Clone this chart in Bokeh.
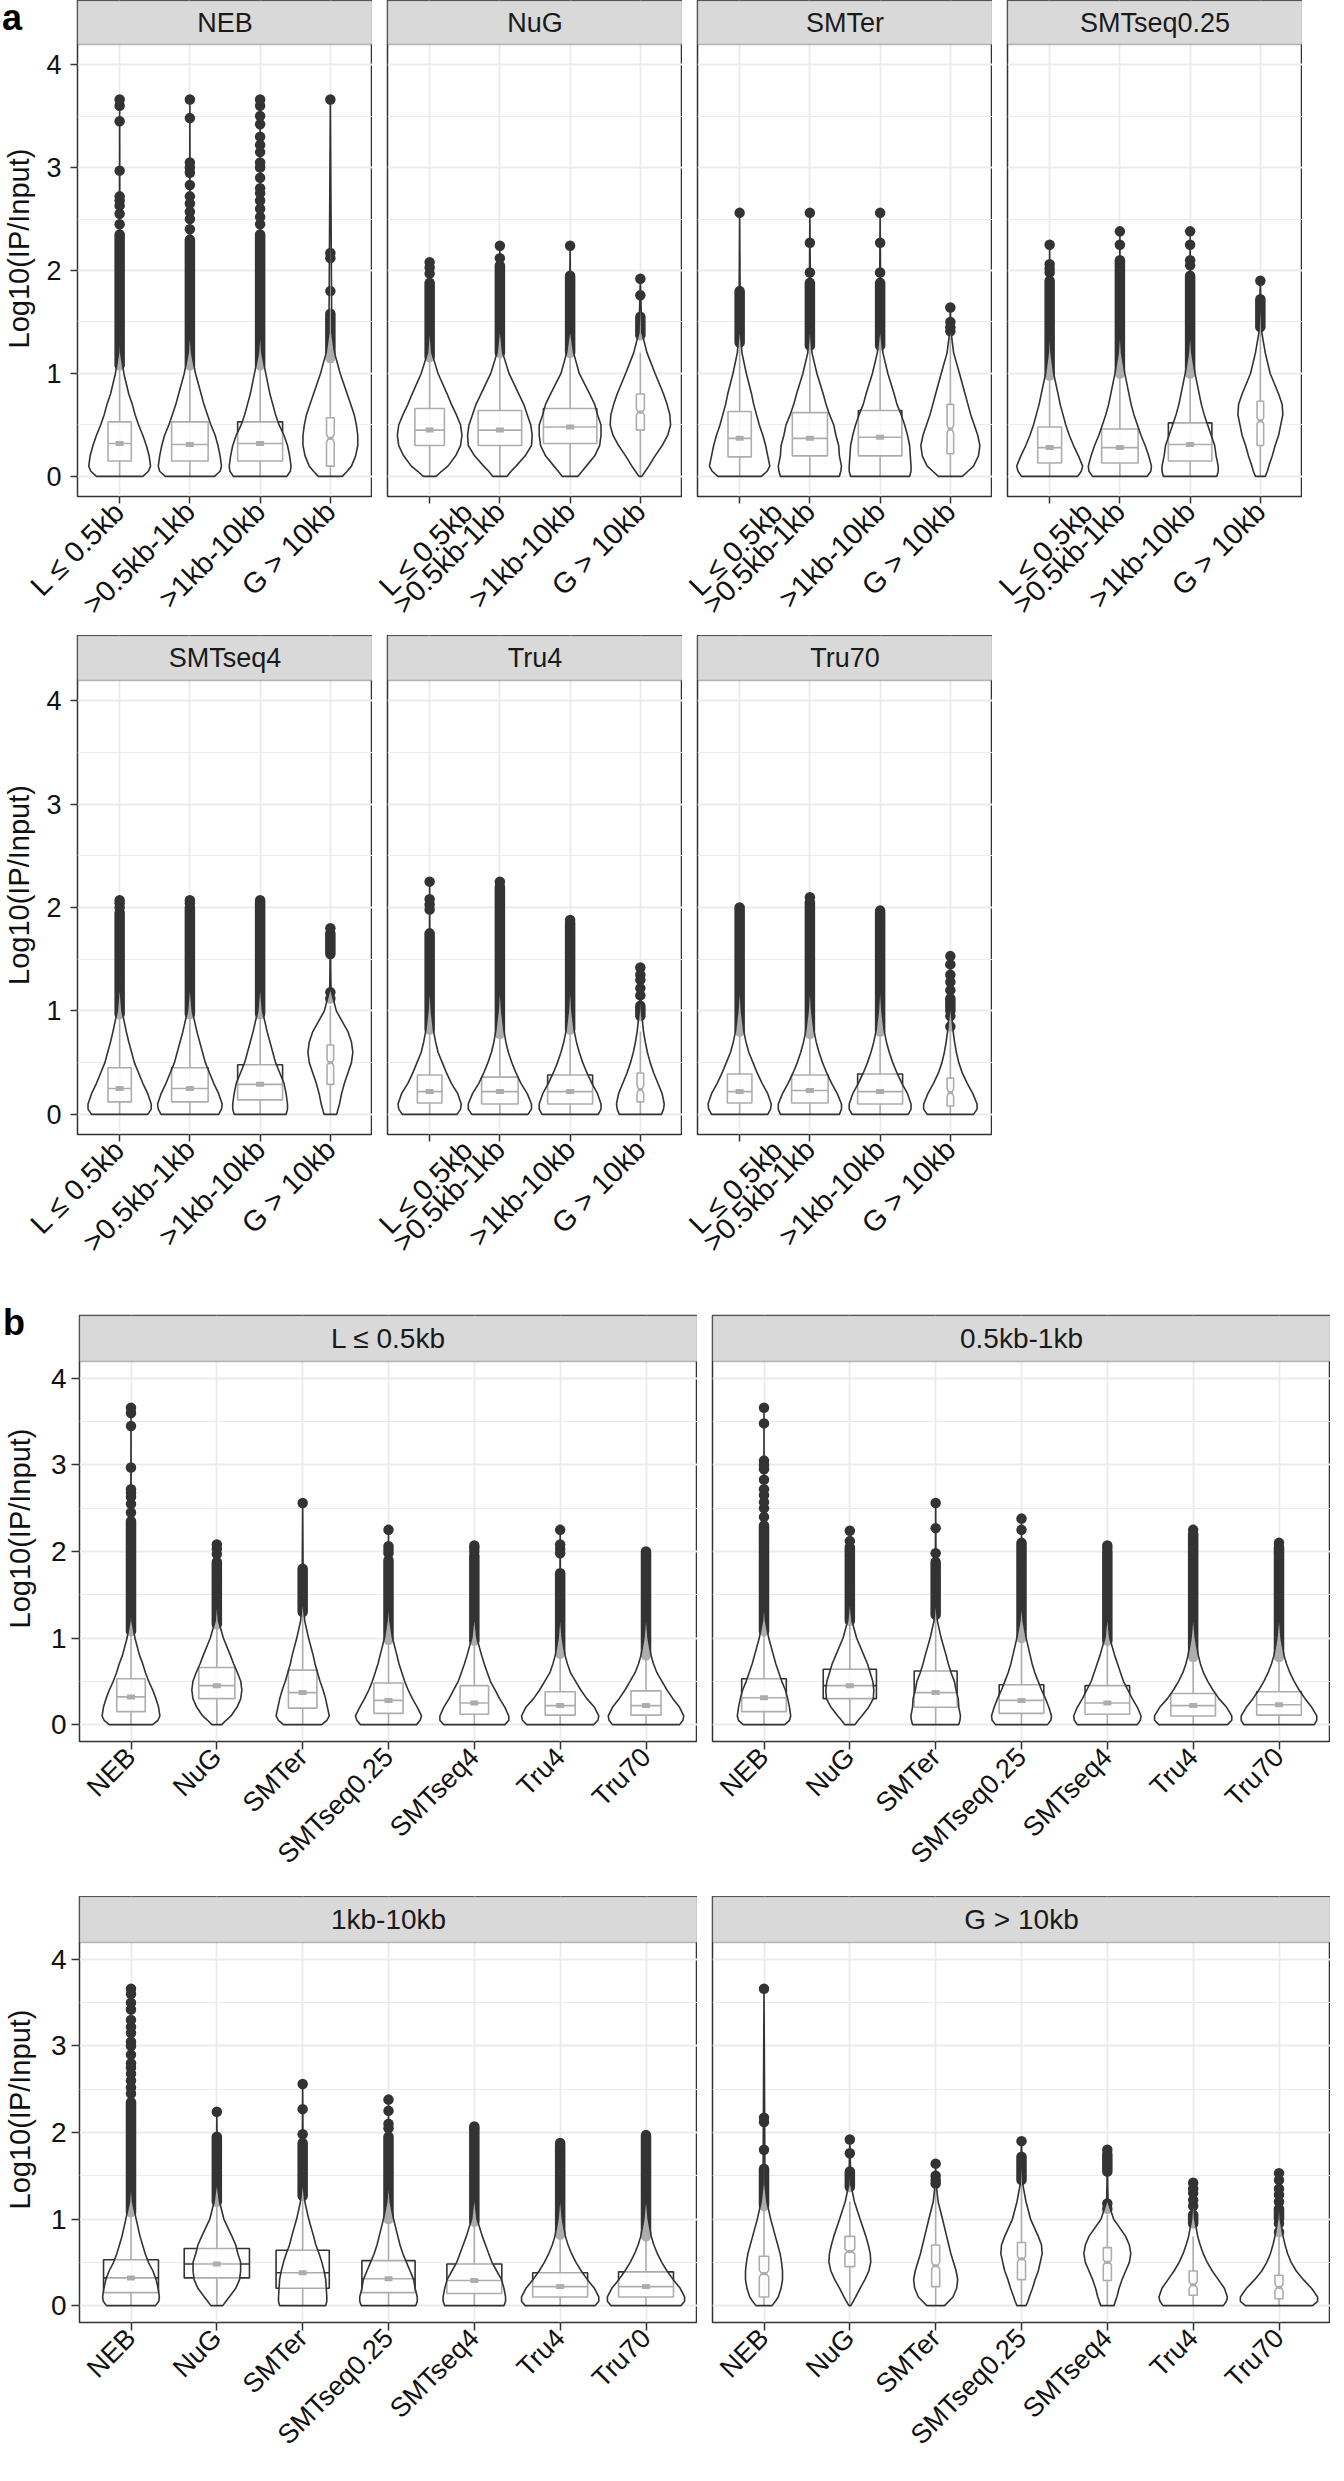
import math
from bokeh.plotting import figure
from bokeh.layouts import row, column
from bokeh.models import FixedTicker, BoxAnnotation, Label, ColumnDataSource, Range1d, Div
from bokeh.embed import file_html
from bokeh.resources import INLINE

# ---------------- data ----------------
LIBS = ["NEB", "NuG", "SMTer", "SMTseq0.25", "SMTseq4", "Tru4", "Tru70"]
SIZES_A = ["L \u2264 0.5kb", ">0.5kb-1kb", ">1kb-10kb", "G > 10kb"]
SIZES_B = ["L \u2264 0.5kb", "0.5kb-1kb", "1kb-10kb", "G > 10kb"]
Y_TICKS = [0, 1, 2, 3, 4]
Y_TITLE = "Log10(IP/Input)"
TAGS = ["a", "b"]

# violin half-widths (x units of panel a) at these y levels
VIOLIN_Y = [0, 0.05, 0.1, 0.2, 0.3, 0.4, 0.5, 0.6, 0.7, 0.8, 1.0, 1.2, 1.4]
VIOLIN_W = {
    "NEB": [[0.33, 0.41, 0.44, 0.42, 0.38, 0.33, 0.27, 0.22, 0.18, 0.13, 0.06, 0.015, 0.005],
            [0.35, 0.43, 0.45, 0.43, 0.40, 0.36, 0.30, 0.25, 0.20, 0.16, 0.08, 0.024, 0.005],
            [0.38, 0.43, 0.44, 0.42, 0.39, 0.34, 0.27, 0.22, 0.18, 0.14, 0.08, 0.024, 0.005],
            [0.17, 0.24, 0.30, 0.36, 0.39, 0.39, 0.37, 0.34, 0.29, 0.24, 0.14, 0.06, 0.02]],
    "NuG": [[0.09, 0.17, 0.26, 0.37, 0.44, 0.46, 0.44, 0.38, 0.31, 0.25, 0.12, 0.03, 0.008],
            [0.10, 0.16, 0.23, 0.36, 0.45, 0.46, 0.44, 0.39, 0.34, 0.27, 0.13, 0.04, 0.01],
            [0.11, 0.17, 0.23, 0.35, 0.42, 0.44, 0.44, 0.39, 0.35, 0.28, 0.13, 0.05, 0.01],
            [0.02, 0.07, 0.12, 0.21, 0.31, 0.39, 0.43, 0.42, 0.38, 0.33, 0.21, 0.095, 0.02]],
    "SMTer": [[0.31, 0.39, 0.43, 0.40, 0.37, 0.33, 0.28, 0.24, 0.20, 0.17, 0.095, 0.033, 0.01],
              [0.42, 0.44, 0.45, 0.42, 0.41, 0.37, 0.34, 0.28, 0.23, 0.19, 0.10, 0.03, 0.01],
              [0.42, 0.44, 0.44, 0.43, 0.42, 0.39, 0.35, 0.30, 0.24, 0.20, 0.11, 0.04, 0.01],
              [0.17, 0.25, 0.33, 0.40, 0.42, 0.39, 0.34, 0.29, 0.25, 0.21, 0.13, 0.047, 0.01]],
    "SMTseq0.25": [[0.40, 0.45, 0.47, 0.41, 0.34, 0.28, 0.23, 0.19, 0.15, 0.12, 0.057, 0.02, 0.005],
                   [0.39, 0.44, 0.45, 0.41, 0.36, 0.30, 0.25, 0.20, 0.16, 0.13, 0.07, 0.024, 0.005],
                   [0.38, 0.40, 0.40, 0.37, 0.35, 0.30, 0.25, 0.20, 0.16, 0.13, 0.07, 0.024, 0.005],
                   [0.07, 0.10, 0.12, 0.17, 0.21, 0.26, 0.29, 0.32, 0.31, 0.26, 0.14, 0.07, 0.02]],
    "SMTseq4": [[0.40, 0.45, 0.45, 0.40, 0.33, 0.27, 0.21, 0.17, 0.13, 0.095, 0.033, 0.01, 0.005],
                [0.41, 0.45, 0.46, 0.41, 0.34, 0.28, 0.22, 0.18, 0.14, 0.10, 0.033, 0.01, 0.005],
                [0.37, 0.39, 0.39, 0.37, 0.34, 0.28, 0.22, 0.18, 0.14, 0.10, 0.033, 0.01, 0.005],
                [0.09, 0.11, 0.13, 0.16, 0.20, 0.25, 0.30, 0.32, 0.30, 0.25, 0.085, 0.01, 0.005]],
    "Tru4": [[0.39, 0.44, 0.45, 0.40, 0.31, 0.24, 0.18, 0.12, 0.085, 0.057, 0.024, 0.008, 0.004],
             [0.40, 0.45, 0.45, 0.39, 0.30, 0.23, 0.17, 0.12, 0.085, 0.06, 0.025, 0.008, 0.004],
             [0.40, 0.44, 0.44, 0.39, 0.31, 0.24, 0.18, 0.13, 0.09, 0.06, 0.025, 0.008, 0.004],
             [0.30, 0.33, 0.34, 0.31, 0.25, 0.19, 0.14, 0.10, 0.07, 0.045, 0.015, 0.005, 0.003]],
    "Tru70": [[0.40, 0.44, 0.45, 0.40, 0.32, 0.25, 0.19, 0.13, 0.09, 0.06, 0.025, 0.008, 0.004],
              [0.42, 0.45, 0.45, 0.39, 0.31, 0.24, 0.18, 0.13, 0.09, 0.06, 0.025, 0.008, 0.004],
              [0.40, 0.44, 0.44, 0.39, 0.31, 0.24, 0.18, 0.13, 0.09, 0.06, 0.025, 0.008, 0.004],
              [0.33, 0.38, 0.38, 0.32, 0.24, 0.17, 0.12, 0.085, 0.06, 0.04, 0.012, 0.004, 0.003]],
}
VMAX = {"NEB": [3.66, 3.66, 3.66, 3.66], "NuG": [2.08, 2.24, 2.24, 1.92],
        "SMTer": [2.56, 2.56, 2.56, 1.64], "SMTseq0.25": [2.25, 2.38, 2.38, 1.90],
        "SMTseq4": [2.07, 2.07, 2.07, 1.80], "Tru4": [2.25, 2.25, 1.88, 1.42],
        "Tru70": [2.00, 2.10, 1.97, 1.53]}
Q1 = {"NEB": [0.15, 0.15, 0.15, 0.10], "NuG": [0.30, 0.30, 0.32, 0.45],
      "SMTer": [0.19, 0.20, 0.20, 0.22], "SMTseq0.25": [0.13, 0.13, 0.15, 0.30],
      "SMTseq4": [0.12, 0.12, 0.14, 0.29], "Tru4": [0.11, 0.10, 0.10, 0.12],
      "Tru70": [0.11, 0.11, 0.10, 0.08]}
MEDIAN = {"NEB": [0.32, 0.31, 0.32, 0.37], "NuG": [0.45, 0.45, 0.48, 0.625],
          "SMTer": [0.37, 0.37, 0.38, 0.46], "SMTseq0.25": [0.28, 0.28, 0.31, 0.54],
          "SMTseq4": [0.25, 0.25, 0.29, 0.50], "Tru4": [0.22, 0.22, 0.22, 0.24],
          "Tru70": [0.22, 0.23, 0.22, 0.21]}
Q3 = {"NEB": [0.53, 0.53, 0.53, 0.57], "NuG": [0.66, 0.64, 0.66, 0.80],
      "SMTer": [0.63, 0.62, 0.64, 0.70], "SMTseq0.25": [0.48, 0.46, 0.52, 0.73],
      "SMTseq4": [0.45, 0.45, 0.48, 0.67], "Tru4": [0.38, 0.36, 0.38, 0.40],
      "Tru70": [0.39, 0.38, 0.39, 0.35]}
BOX_HW = {"NEB": [0.166, 0.26, 0.32, 0.055], "NuG": [0.21, 0.31, 0.38, 0.057],
          "SMTer": [0.166, 0.25, 0.31, 0.047], "SMTseq0.25": [0.17, 0.26, 0.31, 0.047],
          "SMTseq4": [0.166, 0.26, 0.32, 0.047], "Tru4": [0.175, 0.26, 0.32, 0.047],
          "Tru70": [0.175, 0.26, 0.32, 0.047]}
NOTCH = {"NEB": [0, 0, 0, 0.04], "NuG": [0, 0, 0, 0.03], "SMTer": [0, 0, 0, 0.04],
         "SMTseq0.25": [0, 0, 0, 0.03], "SMTseq4": [0, 0, 0, 0.03],
         "Tru4": [0, 0, 0, 0.04], "Tru70": [0, 0, 0, 0.04]}
WHISKER_HI = {"NEB": [1.05, 1.05, 1.05, 1.12], "NuG": [1.15, 1.18, 1.18, 1.20],
              "SMTer": [1.25, 1.22, 1.22, 1.35], "SMTseq0.25": [0.95, 0.97, 0.97, 1.40],
              "SMTseq4": [0.93, 0.93, 0.93, 1.05], "Tru4": [0.80, 0.76, 0.80, 0.80],
              "Tru70": [0.78, 0.76, 0.78, 0.80]}
# dense runs of outliers (low, high) and separate outliers
DENSE = {"NEB": [(1.08, 2.35), (1.08, 2.30), (1.08, 2.35), (1.15, 1.58)],
         "NuG": [(1.16, 1.88), (1.20, 2.05), (1.20, 1.95), (1.37, 1.55)],
         "SMTer": [(1.30, 1.80), (1.27, 1.88), (1.27, 1.88), None],
         "SMTseq0.25": [(0.98, 1.90), (1.00, 2.10), (1.00, 1.95), (1.45, 1.72)],
         "SMTseq4": [(0.97, 1.95), (0.97, 2.00), (0.97, 2.05), (1.55, 1.75)],
         "Tru4": [(0.82, 1.75), (0.78, 2.20), (0.82, 1.85), (0.95, 1.05)],
         "Tru70": [(0.80, 2.00), (0.78, 2.05), (0.80, 1.95), (1.00, 1.12)]}
SPARSE = {"NEB": [[2.45, 2.55, 2.63, 2.68, 2.72, 2.97, 3.45, 3.60, 3.66],
                  [2.40, 2.50, 2.57, 2.65, 2.72, 2.83, 2.95, 3.00, 3.05, 3.48, 3.66],
                  [2.45, 2.52, 2.60, 2.68, 2.75, 2.80, 2.90, 3.00, 3.05, 3.15, 3.22, 3.30, 3.42, 3.50, 3.60, 3.66],
                  [1.80, 2.12, 2.17, 3.66]],
          "NuG": [[1.97, 2.03, 2.08], [2.12, 2.24], [2.24], [1.76, 1.92]],
          "SMTer": [[2.56], [1.98, 2.27, 2.56], [1.98, 2.27, 2.56], [1.41, 1.45, 1.50, 1.64]],
          "SMTseq0.25": [[1.98, 2.02, 2.06, 2.25], [2.25, 2.38], [2.05, 2.10, 2.25, 2.38], [1.90]],
          "SMTseq4": [[2.00, 2.04, 2.07], [2.04, 2.07], [2.07], [1.12, 1.18, 1.80]],
          "Tru4": [[1.98, 2.03, 2.08, 2.25], [2.25], [1.88], [1.15, 1.22, 1.30, 1.35, 1.42]],
          "Tru70": [[], [2.10], [1.97], [0.85, 0.95, 1.20, 1.28, 1.35, 1.45, 1.53]]}

# ---------------- styling ----------------
FONT = "Liberation Sans"
DARK = "#333333"
GRID = "#EBEBEB"
Y0, Y1 = -0.195, 4.195


def violin_area(w, vmax):
    ys = [y for y in VIOLIN_Y if y < vmax]
    py = ys + [vmax]
    pw = list(w[:len(ys)]) + [0.0]
    return sum((pw[i] + pw[i + 1]) / 2 * (py[i + 1] - py[i]) for i in range(len(py) - 1))


def make_panel(title, labels, cells, wscales, frame_w, frame_h, strip_px, show_y, mb, fs):
    n = len(labels)
    ppu = (frame_h - strip_px) / (Y1 - Y0)
    strip_u = strip_px / ppu
    ytop = Y1 + strip_u
    p = figure(frame_width=frame_w, frame_height=frame_h,
               x_range=Range1d(0.4, n + 0.6), y_range=Range1d(Y0, ytop),
               output_backend="svg", toolbar_location=None,
               min_border_left=mb[0], min_border_right=mb[1],
               min_border_top=mb[2], min_border_bottom=mb[3])
    p.background_fill_color = "white"
    p.border_fill_color = "white"
    p.outline_line_color = DARK
    p.outline_line_width = 1.5

    ticks = list(range(1, n + 1))
    p.xgrid.ticker = FixedTicker(ticks=ticks)
    p.xgrid.grid_line_color = GRID
    p.xgrid.grid_line_width = 1.8
    p.ygrid.ticker = FixedTicker(ticks=Y_TICKS, minor_ticks=[0.5, 1.5, 2.5, 3.5])
    p.ygrid.grid_line_color = GRID
    p.ygrid.grid_line_width = 1.8
    p.ygrid.minor_grid_line_color = GRID
    p.ygrid.minor_grid_line_width = 1.0

    box_xs, box_ys = [], []
    wh = dict(x0=[], y0=[], x1=[], y1=[])
    med_thin = dict(x0=[], y0=[], x1=[], y1=[])
    med_thick = dict(x0=[], y0=[], x1=[], y1=[])
    sq = dict(x=[], y=[])
    dense = dict(x0=[], y0=[], x1=[], y1=[])
    pts = dict(x=[], y=[])
    vio_xs, vio_ys = [], []

    for i, ((lib, s), sc) in enumerate(zip(cells, wscales)):
        xc = i + 1
        q1, md, q3 = Q1[lib][s], MEDIAN[lib][s], Q3[lib][s]
        hw, nt = BOX_HW[lib][s], NOTCH[lib][s]
        xmin, xmax = xc - hw, xc + hw
        ind = 0.5 * hw
        if nt > 0:
            box_xs.append([xmin, xmin, xmin + ind, xmin, xmin, xmax, xmax, xmax - ind, xmax, xmax])
            box_ys.append([q3, md + nt, md, md - nt, q1, q1, md - nt, md, md + nt, q3])
            for k, v in zip(("x0", "y0", "x1", "y1"), (xmin + ind, md, xmax - ind, md)):
                med_thick[k].append(v)
        else:
            box_xs.append([xmin, xmin, xmax, xmax])
            box_ys.append([q3, q1, q1, q3])
            for k, v in zip(("x0", "y0", "x1", "y1"), (xmin, md, xmax, md)):
                med_thin[k].append(v)
            sq["x"].append(xc)
            sq["y"].append(md)
        for (a, b) in ((q3, WHISKER_HI[lib][s]), (q1, 0.0)):
            wh["x0"].append(xc); wh["y0"].append(a); wh["x1"].append(xc); wh["y1"].append(b)
        d = DENSE[lib][s]
        if d is not None:
            dense["x0"].append(xc); dense["y0"].append(d[0])
            dense["x1"].append(xc); dense["y1"].append(d[1])
        for yv in SPARSE[lib][s]:
            pts["x"].append(xc); pts["y"].append(yv)
        vmax = VMAX[lib][s]
        ys = [y for y in VIOLIN_Y if y < vmax]
        ws = [w * sc for w in VIOLIN_W[lib][s][:len(ys)]]
        vx = [xc + w for w in ws] + [xc] + [xc - w for w in reversed(ws)]
        vy = ys + [vmax] + list(reversed(ys))
        vio_xs.append(vx)
        vio_ys.append(vy)

    p.patches(box_xs, box_ys, fill_color=None, line_color=DARK, line_width=1.6)
    p.segment(x0="x0", y0="y0", x1="x1", y1="y1", source=ColumnDataSource(wh),
              line_color=DARK, line_width=1.6)
    p.segment(x0="x0", y0="y0", x1="x1", y1="y1", source=ColumnDataSource(med_thin),
              line_color=DARK, line_width=1.6)
    p.segment(x0="x0", y0="y0", x1="x1", y1="y1", source=ColumnDataSource(med_thick),
              line_color=DARK, line_width=3.2)
    p.rect(x="x", y="y", width=8, height=5, width_units="screen", height_units="screen",
           source=ColumnDataSource(sq), fill_color=DARK, line_color=None)
    p.segment(x0="x0", y0="y0", x1="x1", y1="y1", source=ColumnDataSource(dense),
              line_color=DARK, line_width=10.5, line_cap="round")
    p.scatter(x="x", y="y", source=ColumnDataSource(pts), size=10.5,
              fill_color=DARK, line_color=None)
    p.patches(vio_xs, vio_ys, fill_color="white", fill_alpha=0.6,
              line_color=DARK, line_width=1.6)

    # facet strip
    p.add_layout(BoxAnnotation(bottom=Y1, fill_color="#D9D9D9", fill_alpha=1.0,
                               line_color=DARK, line_width=1.5))
    p.add_layout(Label(x=(n + 1) / 2, y=Y1 + strip_u / 2, text=title, text_align="center",
                       text_baseline="middle", text_font=FONT, text_font_size=fs["strip"],
                       text_color="#1A1A1A"))

    # axes
    p.xaxis.ticker = FixedTicker(ticks=ticks)
    p.xaxis.major_label_overrides = {t: lab for t, lab in zip(ticks, labels)}
    p.xaxis.major_label_orientation = math.pi / 4
    p.xaxis.major_label_text_font_size = fs["xtick"]
    p.xaxis.major_label_standoff = 3
    p.yaxis.ticker = FixedTicker(ticks=Y_TICKS)
    p.yaxis.major_label_text_font_size = fs["ytick"]
    p.yaxis.major_label_standoff = fs["ystand"]
    for ax in (p.xaxis, p.yaxis):
        ax.axis_line_color = None
        ax.major_tick_line_color = DARK
        ax.major_tick_line_width = 1.5
        ax.major_tick_out = fs["tick"]
        ax.major_tick_in = 0
        ax.minor_tick_line_color = None
        ax.major_label_text_font = FONT
        ax.major_label_text_color = "#111111"
    if show_y:
        p.yaxis.axis_label = Y_TITLE
        p.yaxis.axis_label_text_font = FONT
        p.yaxis.axis_label_text_font_size = "29px"
        p.yaxis.axis_label_text_font_style = "normal"
        p.yaxis.axis_label_text_color = "#111111"
        p.yaxis.axis_label_standoff = fs["tstand"]
    else:
        p.yaxis.visible = False
    return p


FS_A = {"strip": "27px", "xtick": "29px", "ytick": "27px", "ystand": 9, "tick": 7, "tstand": 8}
FS_B = {"strip": "28px", "xtick": "27px", "ytick": "28px", "ystand": 5, "tick": 8, "tstand": 12}

# ---------- panel a ----------
a_figs = []
for j, lib in enumerate(LIBS):
    first_row = j < 4
    col = j if first_row else j - 4
    fh = 496 if first_row else 499
    sp = 44 if first_row else 45
    bottom = 139 if first_row else 161
    left = 75 if col == 0 else 15
    a_figs.append(make_panel(lib, SIZES_A, [(lib, s) for s in range(4)], [1.0] * 4,
                             295, fh, sp, col == 0, (left, 0, 0, bottom), FS_A))

# ---------- panel b (same distributions, grouped by size) ----------
b_figs = []
for s, title in enumerate(SIZES_B):
    cells = [(lib, s) for lib in LIBS]
    areas = [violin_area(VIOLIN_W[lib][s], VMAX[lib][s]) for lib in LIBS]
    peak = max(max(VIOLIN_W[lib][s]) / a for lib, a in zip(LIBS, areas))
    scales = [0.45 / (a * peak) for a in areas]
    top = 20 if s < 2 else 0
    bottom = 155 if s < 2 else 142
    left = 77 if s % 2 == 0 else 15
    b_figs.append(make_panel(title, LIBS, cells, scales, 618, 426, 46, s % 2 == 0,
                             (left, 0, top, bottom), FS_B))


def tag_div(text, left, top):
    return Div(text=text, width=30, height=40,
               styles={"position": "absolute", "left": f"{left}px", "top": f"{top}px",
                       "font-family": FONT, "font-size": "36px", "font-weight": "bold",
                       "line-height": "36px", "color": "#000000", "z-index": "10"})


layout = column(tag_div(TAGS[0], -3, -5), tag_div(TAGS[1], -2, 1300),
                row(*a_figs[:4]), row(*a_figs[4:]), row(*b_figs[:2]), row(*b_figs[2:]))
open("out.html", "w").write(file_html(layout, INLINE))
